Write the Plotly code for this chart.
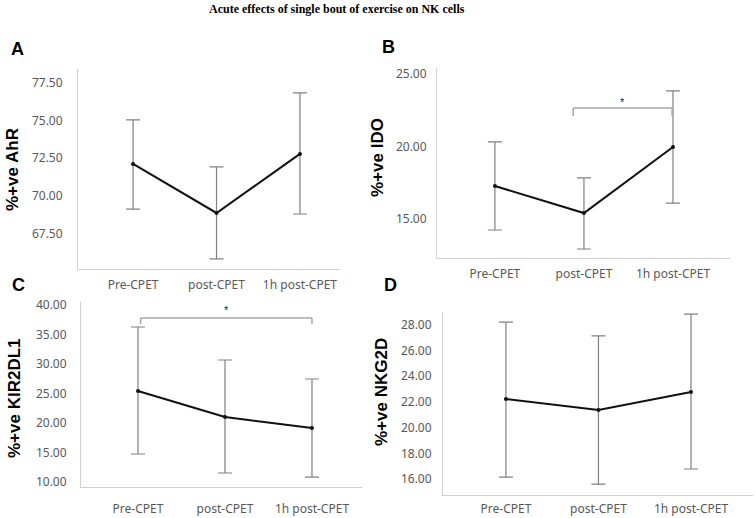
import plotly.graph_objects as go

W, H = 755, 518

categories = ["Pre-CPET", "post-CPET", "1h post-CPET"]

# Panel A: %+ve AhR
ahr_mean = [72.12, 68.86, 72.79]
ahr_upper = [75.05, 71.92, 76.85]
ahr_lower = [69.12, 65.80, 68.79]

# Panel B: %+ve IDO
ido_mean = [17.26, 15.40, 19.95]
ido_upper = [20.30, 17.82, 23.82]
ido_lower = [14.23, 12.92, 16.09]

# Panel C: %+ve KIR2DL1
kir_mean = [25.41, 21.00, 19.14]
kir_upper = [36.25, 30.66, 27.44]
kir_lower = [14.73, 11.51, 10.83]

# Panel D: %+ve NKG2D
nkg_mean = [22.22, 21.37, 22.77]
nkg_upper = [28.20, 27.12, 28.82]
nkg_lower = [16.16, 15.62, 16.79]

ahr_ticks = [67.5, 70.0, 72.5, 75.0, 77.5]
ido_ticks = [15.0, 20.0, 25.0]
kir_ticks = [10, 15, 20, 25, 30, 35, 40]
nkg_ticks = [16, 18, 20, 22, 24, 26, 28]

panels = [
    dict(letter="A", title="%+ve AhR", mean=ahr_mean, up=ahr_upper, lo=ahr_lower,
         ticks=ahr_ticks, yr=[65.13, 78.44], px=(78, 340), py=(69, 269),
         xr=[-0.66, 2.48], xlen=5, ylen=12, ttl=(12, 170), let=(17, 49),
         sig=None),
    dict(letter="B", title="%+ve IDO", mean=ido_mean, up=ido_upper, lo=ido_lower,
         ticks=ido_ticks, yr=[12.30, 25.40], px=(437, 730), py=(68, 258),
         xr=[-0.65, 2.64], xlen=5, ylen=7, ttl=(377, 158), let=(388, 47),
         sig=dict(i0=1, i1=2, d0=-0.12, d1=-0.01, top=22.64, leg=22.09, star=23.26)),
    dict(letter="C", title="%+ve KIR2DL1", mean=kir_mean, up=kir_upper, lo=kir_lower,
         ticks=kir_ticks, yr=[9.14, 40.49], px=(81, 362), py=(302, 487),
         xr=[-0.655, 2.575], xlen=11, ylen=11, ttl=(14, 398), let=(18, 285),
         sig=dict(i0=0, i1=2, d0=0.03, d1=0.0, top=37.78, leg=36.76, star=39.64)),
    dict(letter="D", title="%+ve NKG2D", mean=nkg_mean, up=nkg_upper, lo=nkg_lower,
         ticks=nkg_ticks, yr=[14.77, 28.98], px=(443, 753), py=(312, 495),
         xr=[-0.68, 2.67], xlen=3, ylen=8, ttl=(381, 392), let=(390, 285),
         sig=None),
]

fig = go.Figure()
annotations = []
shapes = []

tick_font = dict(family="Noto Sans, Liberation Sans, sans-serif", size=12, color="#595959")

for k, p in enumerate(panels, start=1):
    xa = "x" if k == 1 else f"x{k}"
    ya = "y" if k == 1 else f"y{k}"
    err_plus = [u - m for u, m in zip(p["up"], p["mean"])]
    err_minus = [m - l for m, l in zip(p["mean"], p["lo"])]
    fig.add_trace(go.Scatter(
        x=categories, y=p["mean"], mode="lines+markers",
        line=dict(color="#111111", width=2),
        marker=dict(color="#111111", size=4),
        error_y=dict(type="data", array=err_plus, arrayminus=err_minus,
                     symmetric=False, color="#808080", thickness=1.2, width=7),
        xaxis=xa, yaxis=ya, showlegend=False, hoverinfo="skip",
    ))
    x0, x1 = p["px"]
    y0, y1 = p["py"]
    xkey = "xaxis" if k == 1 else f"xaxis{k}"
    ykey = "yaxis" if k == 1 else f"yaxis{k}"
    fig.update_layout(**{
        xkey: dict(domain=[x0 / W, x1 / W], anchor=ya, type="category",
                   range=p["xr"], showgrid=False, zeroline=False,
                   showline=True, linecolor="#d0d0d0", linewidth=1,
                   ticks="outside", ticklen=p["xlen"], tickcolor="rgba(0,0,0,0)",
                   tickfont=tick_font, fixedrange=True, automargin=False),
        ykey: dict(domain=[1 - y1 / H, 1 - y0 / H], anchor=xa,
                   range=p["yr"], tickvals=p["ticks"],
                   ticktext=[f"{t:.2f}" for t in p["ticks"]],
                   showgrid=False, zeroline=False,
                   showline=True, linecolor="#d0d0d0", linewidth=1,
                   ticks="outside", ticklen=p["ylen"], tickcolor="rgba(0,0,0,0)",
                   tickfont=tick_font, fixedrange=True, automargin=False),
    })
    # y-axis title
    annotations.append(dict(
        text=f"<b>{p['title']}</b>", x=p["ttl"][0] / W, y=1 - p["ttl"][1] / H,
        xref="paper", yref="paper", textangle=-90, showarrow=False,
        xanchor="center", yanchor="middle",
        font=dict(family="Liberation Sans, Arial, sans-serif", size=17, color="#000000"),
    ))
    # panel letter
    annotations.append(dict(
        text=f"<b>{p['letter']}</b>", x=p["let"][0] / W, y=1 - p["let"][1] / H,
        xref="paper", yref="paper", showarrow=False,
        xanchor="center", yanchor="middle",
        font=dict(family="Liberation Sans, Arial, sans-serif", size=18, color="#000000"),
    ))
    s = p["sig"]
    if s:
        xl = s["i0"] + s["d0"]
        xr_ = s["i1"] + s["d1"]
        for (ax0, ay0, ax1, ay1) in [(xl, s["leg"], xl, s["top"]),
                                      (xl, s["top"], xr_, s["top"]),
                                      (xr_, s["top"], xr_, s["leg"])]:
            shapes.append(dict(type="line", xref=xa, yref=ya,
                               x0=ax0, y0=ay0, x1=ax1, y1=ay1,
                               line=dict(color="#a6a6a6", width=1.5)))
        annotations.append(dict(
            text="*", x=(xl + xr_) / 2, y=s["star"], xref=xa, yref=ya,
            showarrow=False, xanchor="center", yanchor="middle", yshift=-3,
            font=dict(family="Liberation Sans, Arial, sans-serif", size=11, color="#222222"),
        ))

annotations.append(dict(
    text="<b>Acute effects of single bout of exercise on NK cells</b>",
    x=337 / W, y=1 - 9 / H, xref="paper", yref="paper", showarrow=False,
    xanchor="center", yanchor="middle",
    font=dict(family="Liberation Serif, Times New Roman, serif", size=12, color="#000000"),
))

fig.update_layout(
    width=W, height=H, margin=dict(l=0, r=0, t=0, b=0, autoexpand=False),
    paper_bgcolor="white", plot_bgcolor="white",
    annotations=annotations, shapes=shapes,
)

fig.write_html(
    "out.html",
    config={"displayModeBar": False},
    post_script="document.body.style.margin='0px';document.body.style.overflow='hidden';",
)
